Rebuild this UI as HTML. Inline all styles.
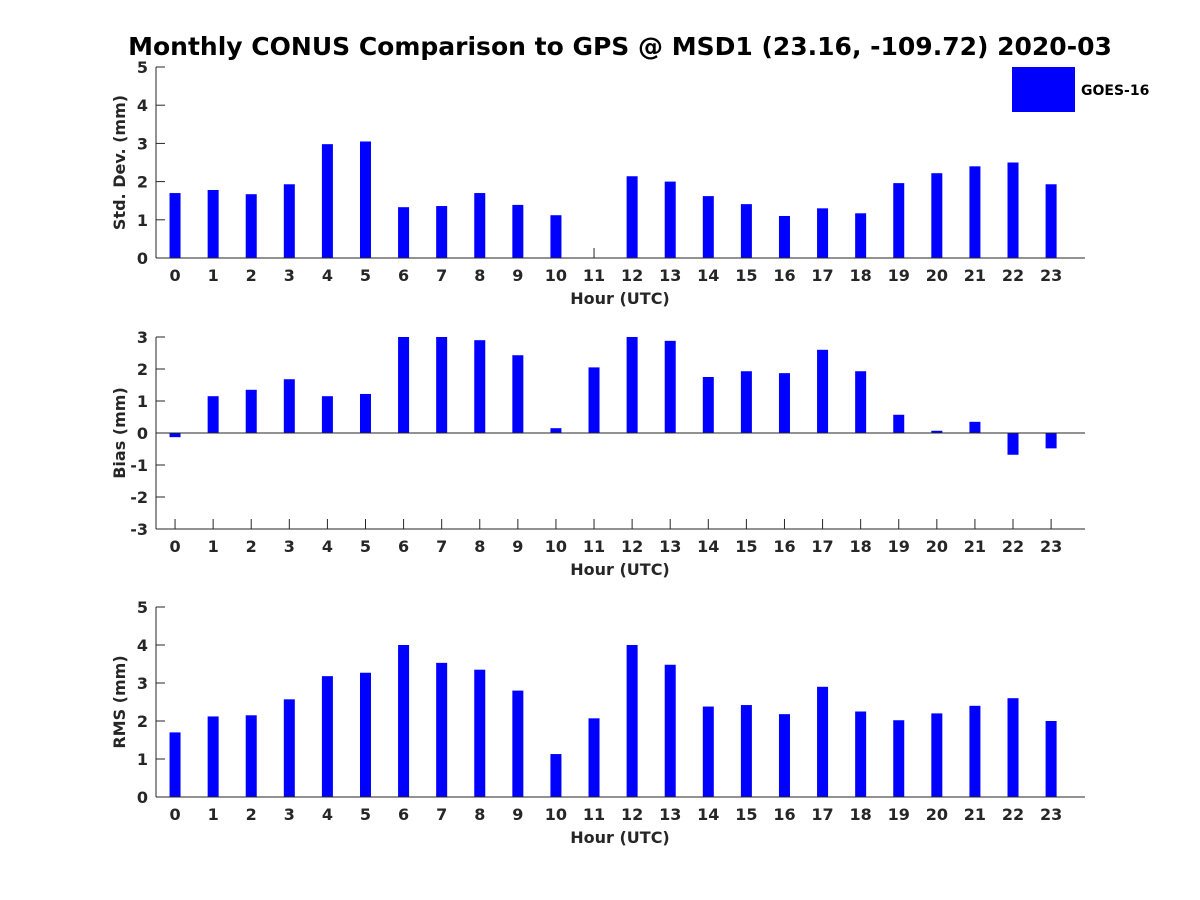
<!DOCTYPE html>
<html><head><meta charset="utf-8"><style>
body{margin:0;background:#fff}
svg{display:block;font-family:"DejaVu Sans","Liberation Sans",sans-serif;font-weight:bold}
</style></head><body>
<svg id="chart" width="1200" height="900" viewBox="0 0 1200 900">
<rect width="1200" height="900" fill="#fff"/>
<text x="620" y="55" text-anchor="middle" font-size="25" fill="#000">Monthly CONUS Comparison to GPS @ MSD1 (23.16, -109.72) 2020-03</text>
<g id="legend">
<rect x="1012" y="67" width="63" height="45" fill="#0000ff"/>
<text x="1081" y="95" font-size="14" fill="#000">GOES-16</text>
</g>
</svg>
<script>
const hours = [0,1,2,3,4,5,6,7,8,9,10,11,12,13,14,15,16,17,18,19,20,21,22,23];
const stdValues = [1.70,1.78,1.67,1.93,2.98,3.05,1.33,1.36,1.70,1.39,1.12,0,2.14,2.00,1.62,1.41,1.10,1.30,1.17,1.96,2.22,2.40,2.50,1.93];
const biasValues = [-0.13,1.15,1.35,1.68,1.15,1.22,3.0,3.0,2.90,2.43,0.15,2.05,3.0,2.88,1.75,1.93,1.87,2.60,1.93,0.57,0.07,0.35,-0.68,-0.48];
const rmsValues = [1.70,2.12,2.15,2.57,3.18,3.27,4.0,3.53,3.35,2.80,1.13,2.07,4.0,3.48,2.38,2.42,2.18,2.90,2.25,2.02,2.20,2.40,2.60,2.00];
const stdTicks = [0,1,2,3,4,5];
const biasTicks = [-3,-2,-1,0,1,2,3];
const rmsTicks = [0,1,2,3,4,5];

const svg = document.getElementById('chart');
const NS = 'http://www.w3.org/2000/svg';
function mk(tag, attrs, parent){const e=document.createElementNS(NS,tag);for(const k in attrs)e.setAttribute(k,attrs[k]);(parent||svg).appendChild(e);return e;}
const X0=156, X1=1085, XMIN=-0.5, XMAX=23.89;
function xs(v){return X0+(v-XMIN)/(XMAX-XMIN)*(X1-X0);}

function panel(name, top, bottom, ymin, ymax, ticks, vals, ylabel){
  const g = mk('g',{});
  
  
  const ys = v => bottom-(v-ymin)/(ymax-ymin)*(bottom-top);
  hours.forEach(h=>{
    const x=xs(h);
    mk('line',{x1:x,y1:bottom,x2:x,y2:bottom-10,stroke:'#262626'},g);
  });
  vals.forEach((v,i)=>{
    const y0=ys(0), y1=ys(v);
    const r = mk('rect',{x:xs(hours[i])-5.5,y:Math.min(y0,y1),width:11,height:Math.abs(y1-y0),fill:'#0000ff'},g);
    
    
  });
  mk('line',{x1:X0,y1:top,x2:X0,y2:bottom,stroke:'#262626','stroke-width':1},g);
  mk('line',{x1:X0,y1:bottom,x2:X1,y2:bottom,stroke:'#262626','stroke-width':1},g);
  if(ymin<0) mk('line',{x1:X0,y1:ys(0),x2:X1,y2:ys(0),stroke:'#262626','stroke-width':1},g);
  ticks.forEach(t=>{
    const y=ys(t);
    mk('line',{x1:X0,y1:y,x2:X0+9,y2:y,stroke:'#262626'},g);
    const tx = mk('text',{x:X0-8,y:y+6,'text-anchor':'end','font-size':16,fill:'#262626'},g);
    tx.textContent=t;
    
    
  });
  hours.forEach(h=>{
    const tx = mk('text',{x:xs(h),y:bottom+23,'text-anchor':'middle','font-size':16,fill:'#262626'},g);
    tx.textContent=h;
    
    
  });
  const xl = mk('text',{x:620,y:bottom+46,'text-anchor':'middle','font-size':16,fill:'#262626'},g);
  xl.textContent='Hour (UTC)';
  
  
  const cy=(top+bottom)/2;
  const yl = mk('text',{x:125,y:cy,'text-anchor':'middle','font-size':16,fill:'#262626',transform:'rotate(-90 125 '+cy+')'},g);
  yl.textContent=ylabel;
  
  
}
panel('std-dev',67,258,0,5,stdTicks,stdValues,'Std. Dev. (mm)');
panel('bias',337,529,-3,3,biasTicks,biasValues,'Bias (mm)');
panel('rms',607,797,0,5,rmsTicks,rmsValues,'RMS (mm)');
svg.appendChild(document.getElementById('legend'));
</script>
</body></html>
